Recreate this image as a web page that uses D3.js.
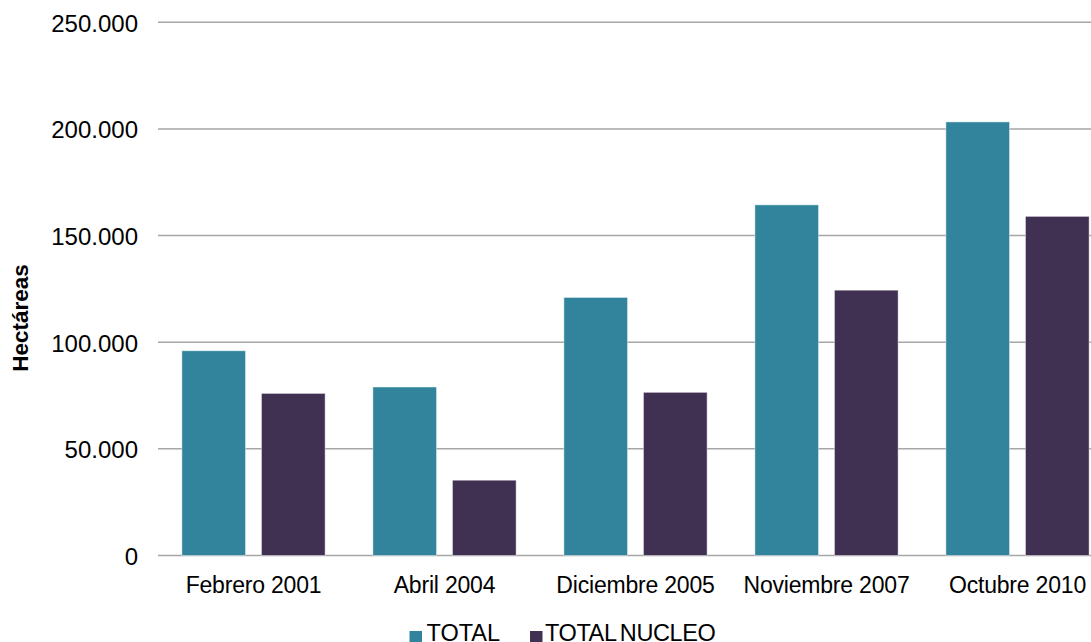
<!DOCTYPE html>
<html>
<head>
<meta charset="utf-8">
<script src="https://cdn.jsdelivr.net/npm/d3@7"></script>
<style>
  html, body { margin: 0; padding: 0; background: #fff; overflow: hidden; }
  svg { display: block; font-family: "Liberation Sans", Arial, sans-serif; }
</style>
</head>
<body>
<svg id="chart" width="1091" height="642"></svg>
<script>
// Superficie (hectáreas) por fecha de relevamiento
const categories = ["Febrero 2001", "Abril 2004", "Diciembre 2005", "Noviembre 2007", "Octubre 2010"];
const seriesNames = ["TOTAL", "TOTAL NUCLEO"];
const totalValues = [96000, 79000, 121000, 164400, 203300];
const nucleoValues = [76000, 35300, 76500, 124400, 159000];
const yTicks = [0, 50000, 100000, 150000, 200000, 250000];
const colors = ["#31849B", "#403152"];

const seriesValues = [totalValues, nucleoValues];
const rows = categories.map((c, i) => ({
  category: c,
  values: seriesNames.map((s, j) => ({ series: s, value: seriesValues[j][i], color: colors[j] }))
}));

const svg = d3.select("#chart");
const plotLeft = 158, plotRight = 1113, plotTop = 22.3, plotBottom = 555.5;

const x0 = d3.scaleBand().domain(categories).range([plotLeft, plotRight])
  .paddingInner(0.25).paddingOuter(0.125);
const x1 = d3.scaleBand().domain(seriesNames).range([0, x0.bandwidth()])
  .paddingInner(0.2).paddingOuter(0);
const y = d3.scaleLinear().domain([0, 250000]).range([plotBottom, plotTop]);

const fmt = v => d3.format(",")(v).replace(/,/g, ".");

// Horizontal gridlines
svg.append("g").selectAll("line").data(yTicks).join("line")
  .attr("x1", plotLeft).attr("x2", plotRight)
  .attr("y1", d => y(d)).attr("y2", d => y(d))
  .attr("stroke", "#a6a6a6").attr("stroke-width", 1.5);

// Y tick labels
svg.append("g").selectAll("text").data(yTicks).join("text")
  .attr("x", 138).attr("y", d => y(d) + 1)
  .attr("text-anchor", "end").attr("dominant-baseline", "central")
  .attr("font-size", 24).attr("fill", "#000")
  .text(d => fmt(d));

// Bars
const groups = svg.append("g").selectAll("g").data(rows).join("g")
  .attr("transform", d => `translate(${x0(d.category)},0)`);
groups.selectAll("rect").data(d => d.values).join("rect")
  .attr("x", d => x1(d.series))
  .attr("y", d => y(d.value))
  .attr("width", x1.bandwidth())
  .attr("height", d => y(0) - y(d.value))
  .attr("fill", d => d.color)
  .attr("stroke", "rgba(255,255,255,0.45)")
  .attr("stroke-width", 1);

// Category labels
svg.append("g").selectAll("text").data(categories).join("text")
  .attr("x", d => x0(d) + x0.bandwidth() / 2).attr("y", 593)
  .attr("text-anchor", "middle").attr("font-size", 23).attr("fill", "#000")
  .attr("letter-spacing", -0.2)
  .text(d => d);

// Y axis title
svg.append("text")
  .attr("transform", "translate(28,318) rotate(-90)")
  .attr("text-anchor", "middle").attr("font-size", 22.5).attr("font-weight", "bold")
  .text("Hectáreas");

// Legend
const legendX = [409.5, 530];
const legend = svg.append("g").selectAll("g").data(seriesNames).join("g")
  .attr("transform", (d, i) => `translate(${legendX[i]},0)`);
legend.append("rect").attr("x", 0).attr("y", 631).attr("width", 12.5).attr("height", 12.5)
  .attr("fill", (d, i) => colors[i]);
legend.append("text").attr("x", (d, i) => i === 0 ? 17 : 15).attr("y", 641)
  .attr("font-size", 23.5).attr("fill", "#000")
  .attr("letter-spacing", (d, i) => i === 0 ? 0 : -0.4)
  .attr("word-spacing", (d, i) => i === 0 ? 0 : -2)
  .text(d => d);
</script>
</body>
</html>
